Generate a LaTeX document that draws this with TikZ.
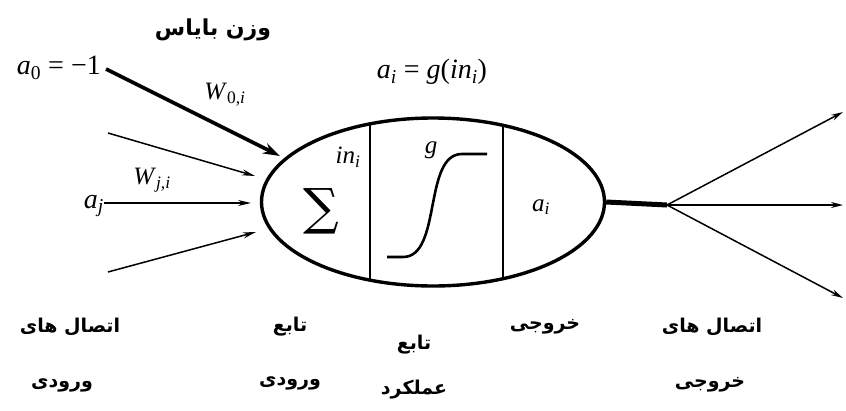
\documentclass[tikz,border=0pt]{standalone}
\usepackage{fontspec}
\setmainfont{Liberation Serif}
\newfontfamily\arabicfont[Script=Arabic]{DejaVu Sans}
\newfontfamily\symfont{DejaVu Serif}
\newcommand{\vv}[1]{\textit{#1}}
\newcommand{\sub}[1]{\textsubscript{#1}}
\TeXXeTstate=1
\usetikzlibrary{arrows.meta,shapes.geometric}
\begin{document}
\begin{tikzpicture}[x=1pt,y=-1pt,
  lbl/.style={font=\fontsize{28}{30}\selectfont, inner sep=0pt},
  sml/.style={font=\fontsize{25}{27}\selectfont, inner sep=0pt},
  fa/.style={font=\arabicfont\bfseries\fontsize{19}{22}\selectfont, inner sep=0pt},
  inarrow/.style={line width=1.5pt, -{Stealth[length=13pt,width=6pt]}},
  outarrow/.style={line width=1.5pt, -{Stealth[length=12pt,width=6pt]}},
  cellstyle/.style={ellipse, draw, line width=3.4pt, minimum width=343pt, minimum height=168pt, inner sep=0pt}]
\useasboundingbox (0,0) rectangle (846,410);
% neuron cell
\node[cellstyle] (cell) at (433,202) {};
\begin{scope}
  \clip (433,202) ellipse [x radius=171pt, y radius=83pt];
  \draw[line width=1.3pt] (370,100) -- (370,300);
  \draw[line width=1.3pt] (503,100) -- (503,300);
\end{scope}
% contents
\node[inner sep=0pt, font=\symfont\fontsize{50}{50}\selectfont] (sigma) at (321,211) {∑};
\node[sml] (ini) at (348,157) {\vv{in}\sub{\vv{i}}};
\node[sml] (g) at (431,150) {\vv{g}};
\node[sml] (ai) at (541,207) {\vv{a}\sub{\vv{i}}};
\draw[line width=2.6pt] (387,257) -- (403,257) .. controls (442,257) and (423,154) .. (462,154) -- (487,154);
\node[lbl] (eq) at (432,72) {\vv{a}\sub{\vv{i}} = \vv{g}(\vv{in}\sub{\vv{i}})};
% bias
\node[lbl, anchor=east] (a0) at (101,68) {\vv{a}\sub{0} = −1};
\node[fa, font=\arabicfont\bfseries\fontsize{22}{24}\selectfont] (bias) at (213,30) {\beginR وزن بایاس\endR};
\node[sml] (w0) at (225,95) {\vv{W}\sub{0,\vv{i}}};
\coordinate (b1) at (280,156);
\draw[line width=3.6pt, -{Stealth[length=17pt,width=11pt]}] (a0.east) ++(5,1) -- (b1);
% inputs
\coordinate (t0) at (108,133);
\coordinate (t1) at (255,176);
\node[lbl, anchor=east] (aj) at (104,206) {\vv{a}\sub{\vv{j}}};
\coordinate (m1) at (251,203);
\coordinate (u0) at (108,272);
\coordinate (u1) at (256,232);
\node[sml] (wj) at (152,180) {\vv{W}\sub{\vv{j},\vv{i}}};
\draw[inarrow] (t0) -- (t1);
\draw[inarrow] (aj.east |- m1) -- (m1);
\draw[inarrow] (u0) -- (u1);
% output
\coordinate (hub) at (667,205);
\coordinate (o1) at (843,112);
\coordinate (o2) at (843,205);
\coordinate (o3) at (843,298);
\draw[line width=5pt] (cell.east) -- (hub);
\draw[outarrow] (hub) -- (o1);
\draw[outarrow] (hub) -- (o2);
\draw[outarrow] (hub) -- (o3);
% bottom labels
\node[fa] (l1a) at (70,327) {\beginR اتصال های\endR};
\node[fa] (l1b) at (62,385) {\beginR ورودی\endR};
\node[fa] (l2a) at (290,327) {\beginR تابع\endR};
\node[fa] (l2b) at (290,383) {\beginR ورودی\endR};
\node[fa] (l3a) at (414,345) {\beginR تابع\endR};
\node[fa] (l3b) at (414,390) {\beginR عملکرد\endR};
\node[fa] (l4) at (545,327) {\beginR خروجی\endR};
\node[fa] (l5a) at (712,327) {\beginR اتصال های\endR};
\node[fa] (l5b) at (710,385) {\beginR خروجی\endR};
\end{tikzpicture}
\end{document}
